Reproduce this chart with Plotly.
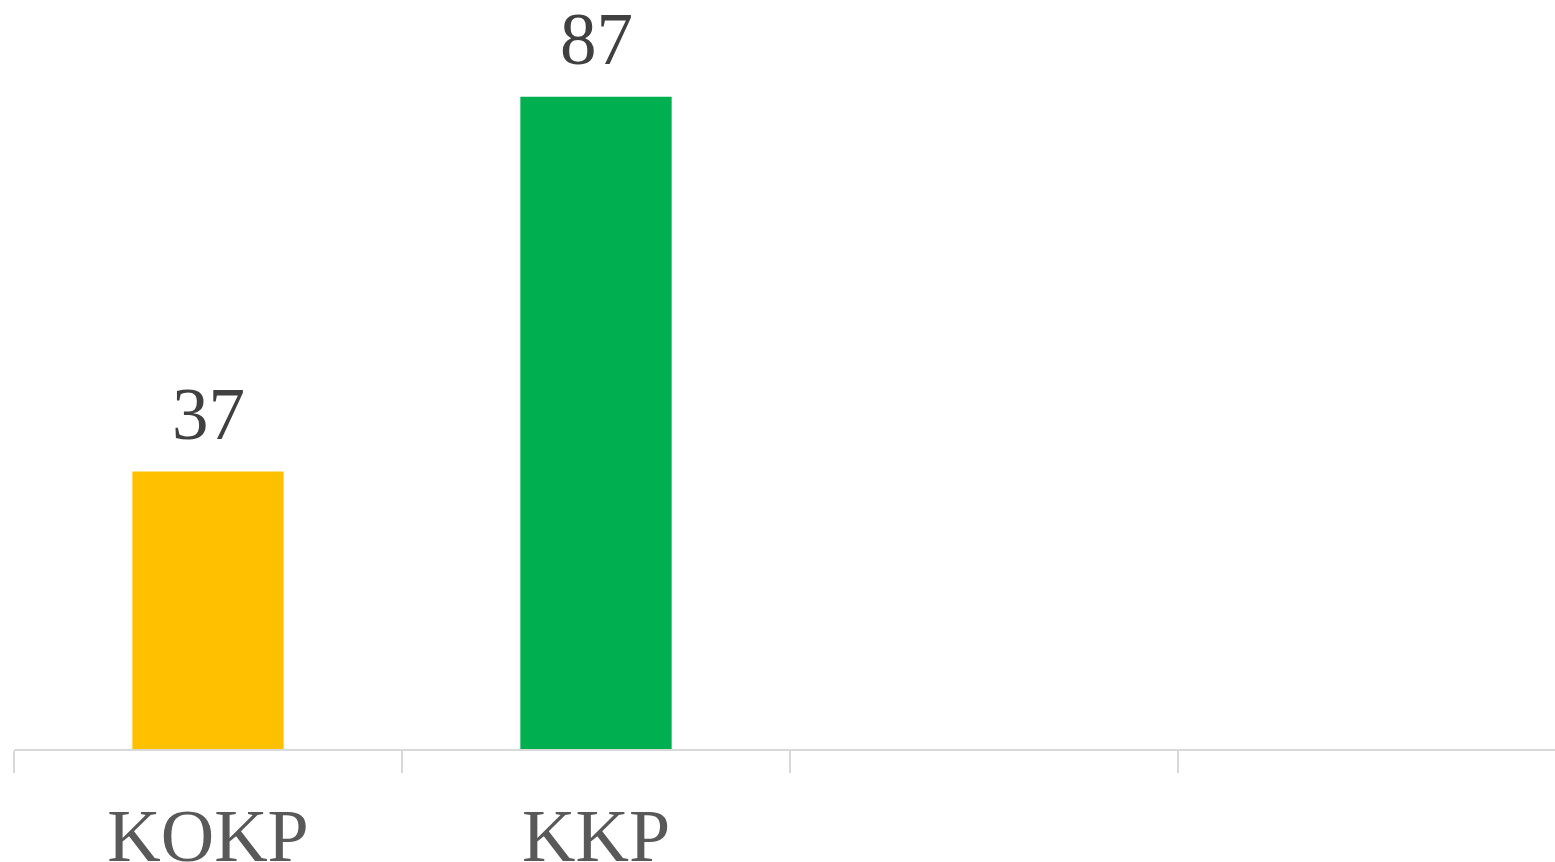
import plotly.graph_objects as go

categories = ["KOKP", "KKP", " ", "  "]
values = [37, 87, None, None]
colors = ["#FFC000", "#00B050", "#FFFFFF", "#FFFFFF"]
labels = ["37", "87", "", ""]

fig = go.Figure()
fig.add_trace(go.Bar(
    x=categories, y=values, marker=dict(color=colors, line=dict(width=0)),
    width=0.39, showlegend=False, hoverinfo="skip",
))
for c, v, t in zip(categories, values, labels):
    if v is not None:
        fig.add_annotation(x=c, y=v, text=t, showarrow=False, yanchor="bottom",
                           yshift=15,
                           font=dict(family="Liberation Serif", size=73, color="#404040"))

fig.update_layout(
    width=1555, height=862,
    margin=dict(l=14, r=0, t=0, b=113, autoexpand=False),
    plot_bgcolor="white", paper_bgcolor="white",
    xaxis=dict(
        type="category", categoryorder="array", categoryarray=categories,
        range=[-0.5, 3.4716], showline=True, linecolor="#D9D9D9", linewidth=2,
        ticks="outside", tickson="boundaries", ticklen=22, tickcolor="#D9D9D9", tickwidth=2,
        ticklabelstandoff=21, automargin=False,
        tickfont=dict(family="Liberation Serif", size=74, color="#595959"),
        showgrid=False, zeroline=False, fixedrange=True,
    ),
    yaxis=dict(range=[0, 99.9], visible=False, showgrid=False, zeroline=False,
               automargin=False, fixedrange=True),
)

fig.write_html("out.html", config={"displayModeBar": False, "staticPlot": True},
               post_script="document.body.style.margin='0';document.body.style.overflow='hidden';")
